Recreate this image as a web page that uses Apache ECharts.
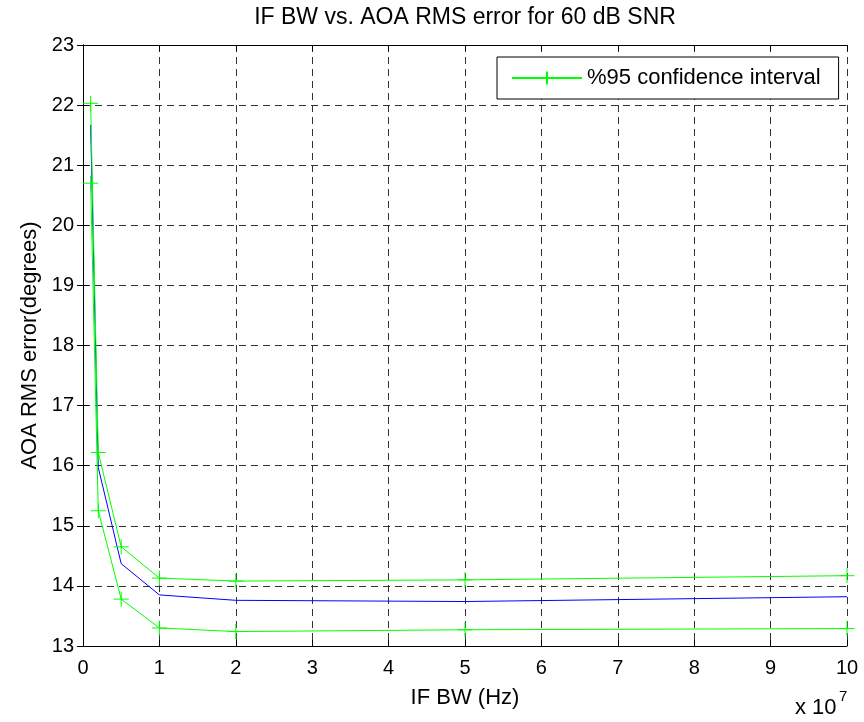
<!DOCTYPE html>
<html>
<head>
<meta charset="utf-8">
<script src="https://cdn.jsdelivr.net/npm/echarts@6/dist/echarts.min.js"></script>
<style>html,body{margin:0;padding:0;background:#fff}#c{width:864px;height:722px}</style>
</head>
<body>
<div id="c"></div>
<script>
// IF bandwidth (x 1e7 Hz)
const bw = [0.1, 0.2, 0.5, 1, 2, 5, 10];
// AOA RMS error (degrees)
const rmsMean  = [21.67, 15.97, 14.37, 13.85, 13.76, 13.74, 13.82];
const ciUpper  = [22.03, 16.22, 14.65, 14.13, 14.08, 14.10, 14.17];
const ciLower  = [20.70, 15.25, 13.78, 13.30, 13.24, 13.27, 13.29];
const xTicks = [0,1,2,3,4,5,6,7,8,9,10];
const yTicks = [13,14,15,16,17,18,19,20,21,22,23];
const titleText = 'IF BW vs. AOA RMS error for 60 dB SNR';
const xName = 'IF BW (Hz)';
const yName = 'AOA RMS error(degrees)';
const ciName = '%95 confidence interval';

const FONT = 'Liberation Sans, Arial, sans-serif';
const pairs = ys => bw.map((x, i) => [x, ys[i]]);
const plus = 'path://M5,0 L5,10 M0,5 L10,5';

const chart = echarts.init(document.getElementById('c'), null, {renderer: 'canvas'});
const gridLine = {show: true, lineStyle: {type: [7, 5], color: '#333', width: 1}};
const axLine = {show: true, lineStyle: {color: '#000', width: 1}};
const tick = {show: true, inside: true, length: 6, lineStyle: {color: '#000'}};

chart.setOption({
  animation: false,
  backgroundColor: '#fff',
  grid: {left: 83, right: 17, top: 45, bottom: 76, containLabel: false},
  graphic: [
    {type: 'text', x: 465, y: 18, style: {text: titleText, fill: '#000', font: '23px ' + FONT, textAlign: 'center', textVerticalAlign: 'middle'}},
    {type: 'text', x: 795, y: 708, style: {text: 'x 10', fill: '#000', font: '22px ' + FONT, textAlign: 'left', textVerticalAlign: 'middle'}},
    {type: 'text', x: 839, y: 697, style: {text: '7', fill: '#000', font: '15px ' + FONT, textAlign: 'left', textVerticalAlign: 'middle'}}
  ],
  legend: {
    data: [ciName], left: 497, top: 57, padding: [10, 18, 10, 14],
    itemWidth: 70, itemHeight: 16, itemGap: 0,
    textStyle: {fontSize: 22, color: '#000', fontFamily: FONT},
    borderColor: '#000', borderWidth: 1, borderRadius: 0, backgroundColor: '#fff'
  },
  xAxis: [{
    type: 'value', min: xTicks[0], max: xTicks[xTicks.length - 1], interval: 1,
    name: xName, nameLocation: 'middle', nameGap: 41,
    nameTextStyle: {fontSize: 22, color: '#000', fontFamily: FONT},
    axisLine: axLine, axisTick: tick, splitLine: gridLine,
    axisLabel: {fontSize: 20, color: '#000', fontFamily: FONT, margin: 12}
  }, {
    type: 'value', position: 'top', min: xTicks[0], max: xTicks[xTicks.length - 1], interval: 1,
    axisLine: axLine, axisTick: tick, splitLine: {show: false}, axisLabel: {show: false}
  }],
  yAxis: [{
    type: 'value', min: yTicks[0], max: yTicks[yTicks.length - 1], interval: 1,
    name: yName, nameLocation: 'middle', nameGap: 39,
    nameTextStyle: {fontSize: 22, color: '#000', fontFamily: FONT},
    axisLine: axLine, axisTick: tick, splitLine: gridLine,
    axisLabel: {fontSize: 20, color: '#000', fontFamily: FONT, margin: 9}
  }, {
    type: 'value', position: 'right', min: yTicks[0], max: yTicks[yTicks.length - 1], interval: 1,
    axisLine: axLine, axisTick: tick, splitLine: {show: false}, axisLabel: {show: false}
  }],
  series: [
    {type: 'line', name: 'mean', data: pairs(rmsMean), showSymbol: false, symbol: 'none',
     lineStyle: {color: '#0000ff', width: 1}, itemStyle: {color: '#0000ff'}},
    {type: 'line', name: ciName, data: pairs(ciUpper), symbol: plus, symbolSize: 15,
     lineStyle: {color: '#00ff00', width: 1},
     itemStyle: {color: '#00ff00', borderColor: '#00ff00', borderWidth: 1}},
    {type: 'line', name: ciName, data: pairs(ciLower), symbol: plus, symbolSize: 15,
     lineStyle: {color: '#00ff00', width: 1},
     itemStyle: {color: '#00ff00', borderColor: '#00ff00', borderWidth: 1}}
  ]
});
</script>
</body>
</html>
